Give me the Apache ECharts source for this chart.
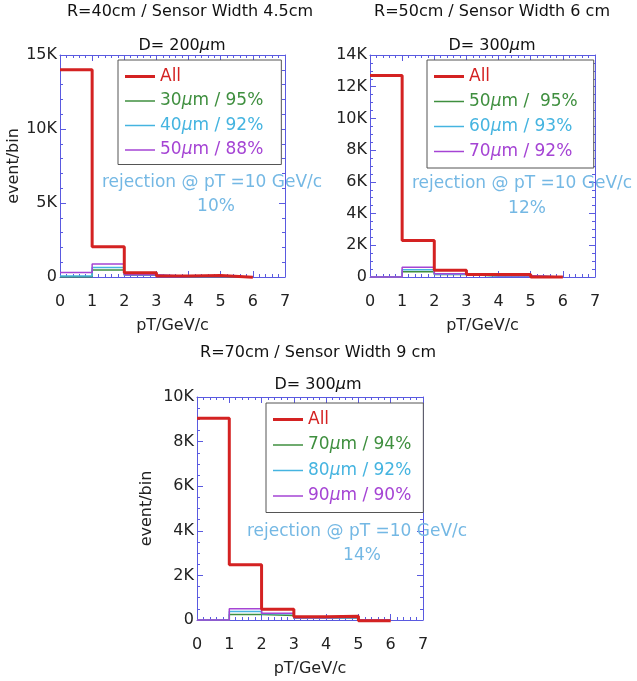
<!DOCTYPE html>
<html>
<head>
<meta charset="utf-8">
<script src="https://cdn.jsdelivr.net/npm/echarts@6/dist/echarts.min.js"></script>
<style>
  html, body { margin: 0; padding: 0; background: #fff; }
  #chart { width: 637px; height: 681px; }
</style>
</head>
<body>
<div id="chart"></div>
<script>
// bin edges (pT / GeV/c), one value per bin
const binEdges = [0, 1, 2, 3, 4, 5, 6];

// panel 1: R=40cm
const p1All = [14000, 2050, 280, 60, 100, -20];
const p1Green = [20, 480, 120, 30, 40, 0];
const p1Cyan = [70, 650, 140, 40, 50, 0];
const p1Magenta = [300, 870, 160, 50, 60, 0];
const p1Names = ['All', '30μm / 95%', '40μm / 92%', '50μm / 88%'];

// panel 2: R=50cm
const p2All = [12700, 2300, 420, 150, 150, 0];
const p2Green = [0, 330, 150, 60, 60, 0];
const p2Cyan = [0, 450, 180, 70, 70, 0];
const p2Magenta = [0, 620, 200, 80, 80, 0];
const p2Names = ['All', '50μm /  95%', '60μm / 93%', '70μm / 92%'];

// panel 3: R=70cm
const p3All = [9050, 2480, 480, 150, 170, -30];
const p3Green = [0, 250, 200, 80, 100, 0];
const p3Cyan = [0, 380, 280, 90, 110, 0];
const p3Magenta = [0, 500, 300, 100, 120, 0];
const p3Names = ['All', '70μm / 94%', '80μm / 92%', '90μm / 90%'];

const yMax = [15000, 14000, 10000];
const yStep = [5000, 2000, 2000];

const FONT = 'DejaVu Sans';
const FRAME = '#5a5ae0';
const colors = ['#d42222', '#3f8f3f', '#45b4e0', '#a544d4'];
const rejColor = '#74b8e4';

const grids = [
  {left: 60, top: 55, width: 225, height: 222},
  {left: 370, top: 55, width: 225, height: 222},
  {left: 197, top: 397, width: 226, height: 223},
];

// histogram -> step points
const steps = (vals) => {
  const pts = vals.map((v, i) => [binEdges[i], v]);
  pts.push([binEdges[binEdges.length - 1], vals[vals.length - 1]]);
  return pts;
};

const kFmt = (v) => (v === 0 ? '0' : v / 1000 + 'K');

const panels = [
  {names: p1Names, data: [p1All, p1Green, p1Cyan, p1Magenta]},
  {names: p2Names, data: [p2All, p2Green, p2Cyan, p2Magenta]},
  {names: p3Names, data: [p3All, p3Green, p3Cyan, p3Magenta]},
];

const xAxis = [];
const yAxis = [];
const series = [];
const legend = [];

const tickBase = {show: true, inside: true, length: 6, lineStyle: {color: FRAME}};
const minorBase = {show: true, splitNumber: 5, length: 3, lineStyle: {color: FRAME}};
const labelStyle = {fontFamily: FONT, fontSize: 16, color: '#222'};

panels.forEach((p, i) => {
  ['bottom', 'top'].forEach((pos) => {
    xAxis.push({
      type: 'value', gridIndex: i, position: pos, min: 0, max: 7, interval: 1,
      name: pos === 'bottom' ? 'pT/GeV/c' : '',
      nameLocation: 'middle', nameGap: 41,
      nameTextStyle: labelStyle,
      axisLine: {show: true, onZero: false, lineStyle: {color: FRAME, width: 1}},
      axisTick: tickBase,
      minorTick: minorBase,
      splitLine: {show: false},
      axisLabel: Object.assign({show: pos === 'bottom', margin: 17}, labelStyle),
    });
  });
  ['left', 'right'].forEach((pos) => {
    yAxis.push({
      type: 'value', gridIndex: i, position: pos, min: 0, max: yMax[i], interval: yStep[i],
      name: pos === 'left' && i !== 1 ? 'event/bin' : '',
      nameLocation: 'middle', nameGap: i === 0 ? 37 : 42,
      nameTextStyle: labelStyle,
      axisLine: {show: true, onZero: false, lineStyle: {color: FRAME, width: 1}},
      axisTick: tickBase,
      minorTick: Object.assign({}, minorBase, {splitNumber: i === 0 ? 5 : 4}),
      splitLine: {show: false},
      axisLabel: Object.assign({show: pos === 'left', margin: 3, formatter: kFmt}, labelStyle),
    });
  });

  // colored curves under, red on top
  [1, 2, 3, 0].forEach((k) => {
    series.push({
      type: 'line', name: p.names[k], step: 'end', symbol: 'none', clip: false,
      xAxisIndex: 2 * i, yAxisIndex: 2 * i,
      z: k === 0 ? 5 : 3,
      lineStyle: {color: colors[k], width: k === 0 ? 3 : 1.5},
      itemStyle: {color: colors[k]},
      data: steps(p.data[k]),
    });
  });
});

const legendPos = [
  {left: 118, top: 60, padding: [8, 18, 6, 7], itemGap: 7.5},
  {left: 427, top: 60, padding: [8, 16, 8, 7], itemGap: 8},
  {left: 266, top: 403, padding: [8, 12, 8, 7], itemGap: 8.5},
];

const thick = 'path://M0,0L30,0L30,3L0,3Z';
const thin = 'path://M0,0L30,0L30,1.5L0,1.5Z';

panels.forEach((p, i) => {
  legend.push(Object.assign({
    orient: 'vertical', itemWidth: 30, itemHeight: 16,
    borderColor: '#555', borderWidth: 1, backgroundColor: '#fff',
    selectedMode: false,
    textStyle: {
      fontFamily: FONT, fontSize: 17,
      rich: {mu: {fontStyle: 'italic', fontFamily: FONT, fontSize: 17}},
    },
    formatter: (n) => n.replace('μ', '{mu|μ}'),
    data: p.names.map((n, k) => ({
      name: n, icon: k === 0 ? thick : thin,
      itemStyle: {color: colors[k]},
      textStyle: {color: colors[k]},
    })),
  }, legendPos[i]));
});

const titleStyle = {fontFamily: FONT, fontSize: 16, fontWeight: 'normal', color: '#111',
  rich: {mu: {fontStyle: 'italic', fontFamily: FONT, fontSize: 16, color: '#111'}}};
const rejStyle = {fontFamily: FONT, fontSize: 17, fontWeight: 'normal', color: rejColor};

const t = (text, x, y, style) => ({text, left: x, top: y, textAlign: 'center', textStyle: style, padding: 0});

const title = [
  t('R=40cm / Sensor Width 4.5cm', 190, 4, titleStyle),
  t('R=50cm / Sensor Width 6 cm', 492, 4, titleStyle),
  t('R=70cm / Sensor Width 9 cm', 318, 345, titleStyle),
  t('D= 200{mu|μ}m', 182, 38, titleStyle),
  t('D= 300{mu|μ}m', 492, 38, titleStyle),
  t('D= 300{mu|μ}m', 318, 377, titleStyle),
  t('rejection @ pT =10 GeV/c', 212, 174, rejStyle),
  t('10%', 216, 198, rejStyle),
  t('rejection @ pT =10 GeV/c', 522, 175, rejStyle),
  t('12%', 527, 200, rejStyle),
  t('rejection @ pT =10 GeV/c', 357, 523, rejStyle),
  t('14%', 362, 547, rejStyle),
];

const chart = echarts.init(document.getElementById('chart'));
chart.setOption({
  backgroundColor: '#fff',
  animation: false,
  title,
  legend,
  grid: grids,
  xAxis,
  yAxis,
  series,
});
</script>
</body>
</html>
